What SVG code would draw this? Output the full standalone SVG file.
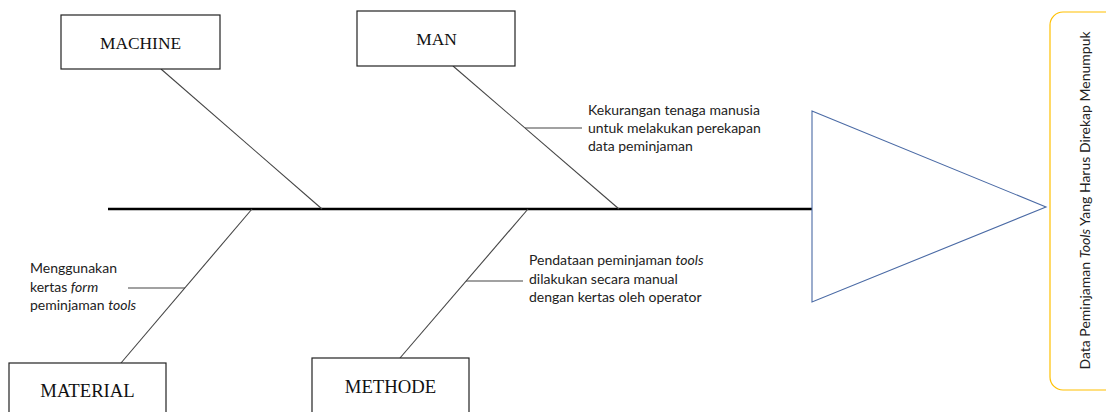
<svg xmlns="http://www.w3.org/2000/svg" width="1106" height="412" viewBox="0 0 1106 412">
<style>
.box{fill:#fff;stroke:#222;stroke-width:1.2}
.lbl{font-family:"Liberation Serif","Times New Roman",serif;fill:#111;text-anchor:middle}
.bone{stroke:#444;stroke-width:1.1;fill:none}
.note{font-family:Lato,"Open Sans",sans-serif;font-size:14px;fill:#222}
.it{font-style:italic}
</style>
<rect width="1106" height="412" fill="#fff"/>
<g id="connectors">
<line x1="108" y1="209" x2="812" y2="209" stroke="#000" stroke-width="2.5"/>
<line class="bone" x1="161" y1="69" x2="322" y2="209"/>
<line class="bone" x1="453" y1="66" x2="619" y2="209"/>
<line class="bone" x1="525" y1="128" x2="582" y2="128"/>
<line class="bone" x1="121" y1="363" x2="252" y2="209"/>
<line class="bone" x1="128" y1="288" x2="185" y2="288"/>
<line class="bone" x1="400" y1="358" x2="528" y2="209"/>
<line class="bone" x1="466" y1="281" x2="523" y2="281"/>
</g>
<g id="machine">
<rect class="box" x="61" y="15" width="159" height="54"/>
<text class="lbl" x="140.5" y="49" font-size="17.4">MACHINE</text>
</g>
<g id="man">
<rect class="box" x="357" y="11" width="158" height="55"/>
<text class="lbl" x="436.5" y="45" font-size="17.4">MAN</text>
</g>
<g id="material">
<rect class="box" x="9" y="363" width="157" height="60"/>
<text class="lbl" x="87.5" y="397" font-size="18.7">MATERIAL</text>
</g>
<g id="methode">
<rect class="box" x="312" y="358" width="157" height="60"/>
<text class="lbl" x="390.5" y="393" font-size="18.7">METHODE</text>
</g>
<g id="note-man">
<text class="note" x="588" y="115">Kekurangan tenaga manusia</text>
<text class="note" x="588" y="133">untuk melakukan perekapan</text>
<text class="note" x="588" y="151">data peminjaman</text>
</g>
<g id="note-material">
<text class="note" x="30" y="273">Menggunakan</text>
<text class="note" x="30" y="291.5">kertas <tspan class="it">form</tspan></text>
<text class="note" x="30" y="310">peminjaman <tspan class="it">tools</tspan></text>
</g>
<g id="note-methode">
<text class="note" x="529" y="265">Pendataan peminjaman <tspan class="it">tools</tspan></text>
<text class="note" x="529" y="283.5">dilakukan secara manual</text>
<text class="note" x="529" y="302">dengan kertas oleh operator</text>
</g>
<g id="head">
<polygon points="812,111 1046,207 812,302" fill="#fff" stroke="#4a6aa5" stroke-width="1.1"/>
</g>
<g id="effect">
<rect x="1050" y="12" width="80" height="378" rx="13" fill="#fff" stroke="#ffc000" stroke-width="1.2"/>
<text class="note" transform="translate(1089.5,200.5) rotate(-90)" text-anchor="middle">Data Peminjaman <tspan class="it">Tools</tspan> Yang Harus Direkap Menumpuk</text>
</g>
</svg>
